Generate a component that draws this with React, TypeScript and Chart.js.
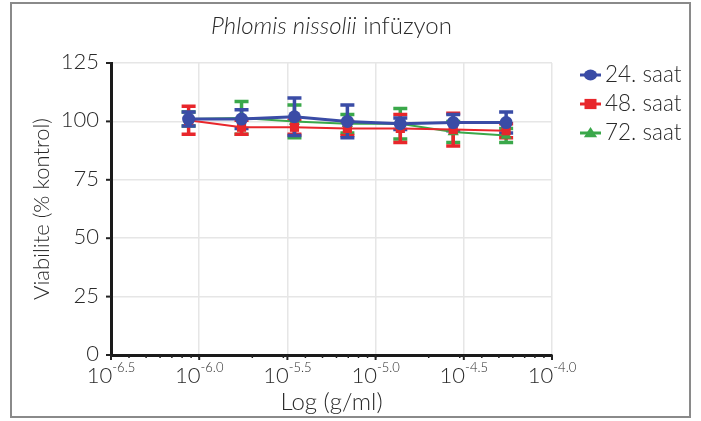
import React, { useEffect, useRef } from "react";
import { Chart, registerables } from "chart.js";
Chart.register(...registerables);

const logConc = [-6.06, -5.76, -5.46, -5.16, -4.86, -4.56, -4.26];
const seriesNames = ["24. saat", "48. saat", "72. saat"];
const h24 = [101, 101, 102, 100, 99, 99.5, 99.5];
const h24Err = [3, 4, 8, 7, 2.5, 3.5, 4.5];
const h48 = [100.5, 97.5, 97.5, 97, 97, 96.5, 96];
const h48Err = [6, 3, 3, 3, 6, 7, 3];
const h72 = [101, 101.5, 100, 99, 99, 95.5, 94];
const h72Err = [3, 7, 7, 4, 6.5, 4.5, 3];
const xTicks = [-6.5, -6.0, -5.5, -5.0, -4.5, -4.0];
const xTickExp = ["-6.5", "-6.0", "-5.5", "-5.0", "-4.5", "-4.0"];
const yTicks = [0, 25, 50, 75, 100, 125];
const titleItalic = "Phlomis nissolii";
const titleRest = " infüzyon";
const xTitle = "Log (g/ml)";
const yTitle = "Viabilite (% kontrol)";

const colors = ["#3a4ca6", "#e8262b", "#3aa84a"];
const styles = ["circle", "rect", "triangle"];
const FONT = "Lato, 'Open Sans', sans-serif";
const TEXT = "#2a2a2a";

const errs = [h24Err, h48Err, h72Err];

const drawMarker = (ctx: CanvasRenderingContext2D, style: string, x: number, y: number, r: number, color: string) => {
  ctx.save();
  ctx.fillStyle = color;
  ctx.beginPath();
  if (style === "circle") {
    ctx.ellipse(x, y, r * 1.1, r * 0.9, 0, 0, Math.PI * 2);
  } else if (style === "rect") {
    ctx.rect(x - r, y - r * 0.85, 2 * r, 1.7 * r);
  } else {
    ctx.moveTo(x, y - r);
    ctx.lineTo(x + r * 1.1, y + r * 0.7);
    ctx.lineTo(x - r * 1.1, y + r * 0.7);
    ctx.closePath();
  }
  ctx.fill();
  ctx.restore();
};

const decorPlugin = {
  id: "decor",
  beforeDatasetsDraw(chart: any) {
    const ctx = chart.ctx as CanvasRenderingContext2D;
    const xs = chart.scales.x;
    const ys = chart.scales.y;
    ctx.save();
    for (let d = chart.data.datasets.length - 1; d >= 0; d--) {
      const ds = chart.data.datasets[d];
      ctx.strokeStyle = colors[d];
      ctx.lineWidth = 3.5;
      ds.data.forEach((p: any, i: number) => {
        const x = xs.getPixelForValue(p.x);
        const yTop = ys.getPixelForValue(p.y + errs[d][i]);
        const yBot = ys.getPixelForValue(p.y - errs[d][i]);
        ctx.beginPath();
        ctx.moveTo(x, yTop);
        ctx.lineTo(x, yBot);
        ctx.moveTo(x - 7, yTop);
        ctx.lineTo(x + 7, yTop);
        ctx.moveTo(x - 7, yBot);
        ctx.lineTo(x + 7, yBot);
        ctx.stroke();
      });
    }
    ctx.restore();
  },
  afterDraw(chart: any) {
    const ctx = chart.ctx as CanvasRenderingContext2D;
    const xs = chart.scales.x;
    const ys = chart.scales.y;
    const area = chart.chartArea;
    ctx.save();
    // outer border
    ctx.strokeStyle = "#8a8a8a";
    ctx.lineWidth = 2;
    ctx.strokeRect(11, 3, 679, 414);

    // title
    ctx.fillStyle = TEXT;
    ctx.textBaseline = "alphabetic";
    const fItal = `italic 300 24px ${FONT}`;
    const fNorm = `300 24px ${FONT}`;
    ctx.font = fItal;
    const w1 = ctx.measureText(titleItalic).width;
    ctx.font = fNorm;
    const w2 = ctx.measureText(titleRest).width;
    const cx = (area.left + area.right) / 2;
    const tx = cx - (w1 + w2) / 2;
    ctx.textAlign = "left";
    ctx.font = fItal;
    ctx.fillText(titleItalic, tx, 34);
    ctx.font = fNorm;
    ctx.fillText(titleRest, tx + w1, 34);

    // y ticks
    ctx.font = `300 22px ${FONT}`;
    ctx.textAlign = "right";
    ctx.textBaseline = "middle";
    ctx.strokeStyle = "#222";
    ctx.lineWidth = 2;
    yTicks.forEach((v) => {
      const y = ys.getPixelForValue(v);
      ctx.fillText(String(v), area.left - 12, y - 1);
      ctx.beginPath();
      ctx.moveTo(area.left - 5, y);
      ctx.lineTo(area.left, y);
      ctx.stroke();
    });

    // x minor ticks
    ctx.lineWidth = 1.5;
    for (let n = -7; n <= -4; n++) {
      for (let k = 1; k <= 9; k++) {
        const lv = n + Math.log10(k);
        if (lv < xTicks[0] || lv > xTicks[xTicks.length - 1]) continue;
        const x = xs.getPixelForValue(lv);
        ctx.beginPath();
        ctx.moveTo(x, area.bottom);
        ctx.lineTo(x, area.bottom + 3);
        ctx.stroke();
      }
    }
    // x major ticks + labels
    xTicks.forEach((v, i) => {
      const x = xs.getPixelForValue(v);
      ctx.lineWidth = 2;
      ctx.beginPath();
      ctx.moveTo(x, area.bottom);
      ctx.lineTo(x, area.bottom + 5);
      ctx.stroke();
      ctx.font = `300 22px ${FONT}`;
      const wb = ctx.measureText("10").width;
      ctx.font = `300 13px ${FONT}`;
      const we = ctx.measureText(xTickExp[i]).width;
      const start = x - (wb + we) / 2;
      ctx.textAlign = "left";
      ctx.textBaseline = "alphabetic";
      ctx.font = `300 22px ${FONT}`;
      ctx.fillText("10", start, 383);
      ctx.font = `300 13px ${FONT}`;
      ctx.fillText(xTickExp[i], start + wb, 372);
    });

    // x title
    ctx.font = `300 24px ${FONT}`;
    ctx.textAlign = "center";
    ctx.textBaseline = "middle";
    ctx.fillText(xTitle, cx, 402);

    // y title
    ctx.save();
    ctx.translate(42, (area.top + area.bottom) / 2);
    ctx.rotate(-Math.PI / 2);
    ctx.font = `300 22px ${FONT}`;
    ctx.fillText(yTitle, 0, 0);
    ctx.restore();

    // legend
    seriesNames.forEach((name, i) => {
      const y = 75 + i * 29;
      ctx.strokeStyle = colors[i];
      ctx.lineWidth = 3;
      ctx.beginPath();
      ctx.moveTo(580, y);
      ctx.lineTo(601, y);
      ctx.stroke();
      drawMarker(ctx, styles[i], 590.5, y, 6, colors[i]);
      ctx.fillStyle = TEXT;
      ctx.font = `300 22.5px ${FONT}`;
      ctx.textAlign = "left";
      ctx.textBaseline = "middle";
      ctx.fillText(name, 605, y);
    });
    ctx.restore();
  },
};

export default function App() {
  const ref = useRef<HTMLCanvasElement | null>(null);
  useEffect(() => {
    if (!ref.current) return;
    const mk = (vals: number[]) => vals.map((v, i) => ({ x: logConc[i], y: v }));
    const chart = new Chart(ref.current, {
      type: "scatter",
      data: {
        datasets: [h24, h48, h72].map((vals, i) => ({
          label: seriesNames[i],
          data: mk(vals),
          showLine: true,
          borderColor: colors[i],
          backgroundColor: colors[i],
          borderWidth: i === 0 ? 3 : 2,
          pointStyle: styles[i] as any,
          pointRadius: 6.5,
          pointBorderWidth: 0,
          pointBackgroundColor: colors[i],
        })),
      },
      options: {
        responsive: false,
        animation: false,
        layout: { padding: { left: 111, top: 63, right: 149, bottom: 66 } },
        plugins: { legend: { display: false }, tooltip: { enabled: false }, title: { display: false } },
        scales: {
          x: {
            type: "linear",
            min: -6.5,
            max: -4.0,
            afterBuildTicks: (s: any) => { s.ticks = xTicks.map((v) => ({ value: v })); },
            ticks: { display: false },
            grid: { color: "#e6e6e6", lineWidth: 1.5, drawTicks: false },
            border: { color: "#1a1a1a", width: 3 },
          },
          y: {
            min: 0,
            max: 125,
            afterBuildTicks: (s: any) => { s.ticks = yTicks.map((v) => ({ value: v })); },
            ticks: { display: false },
            grid: { color: "#e6e6e6", lineWidth: 1.5, drawTicks: false },
            border: { color: "#1a1a1a", width: 3 },
          },
        },
      },
      plugins: [decorPlugin],
    });
    return () => chart.destroy();
  }, []);
  return (
    <div style={{ position: "fixed", left: 0, top: 0, width: 701, height: 421, background: "#fff" }}>
      <canvas ref={ref} width={701} height={421} style={{ display: "block" }} />
    </div>
  );
}
